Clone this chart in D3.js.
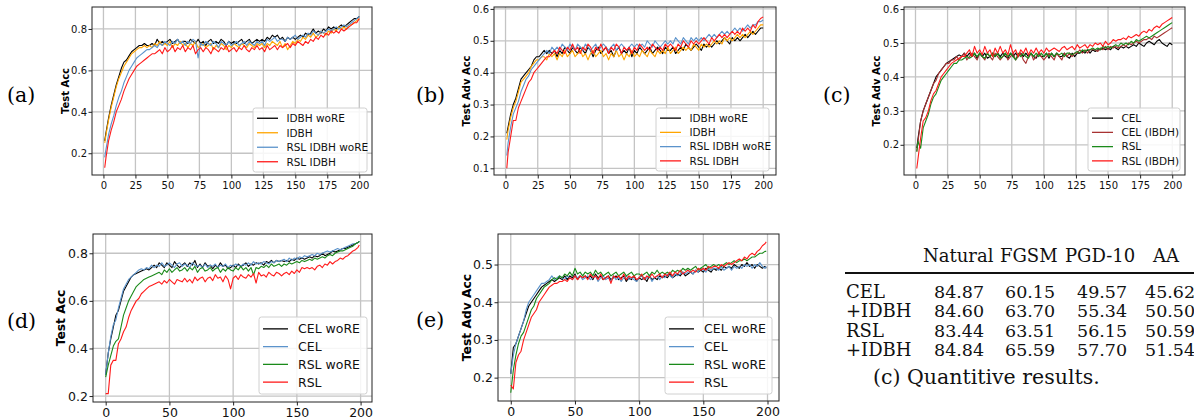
<!DOCTYPE html>
<html>
<head>
<meta charset="utf-8">
<script src="https://cdn.jsdelivr.net/npm/d3@7"></script>
<style>
body { margin: 0; background: #fff; }
svg { display: block; }
</style>
</head>
<body>
<div id="fig"></div>
<script>
"use strict"

// epochs, every second one is kept
var epochs_top = [1].concat(d3.range(2, 201, 2))
var epochs_bottom = d3.range(0, 199, 2).concat([199])

var ticks_x_top = [0, 25, 50, 75, 100, 125, 150, 175, 200]
var ticks_x_bottom = [0, 50, 100, 150, 200]

// (a) test acc, values in %
var a_idbh_wore = [
    26, 30, 37, 43, 48, 53, 57, 61, 64, 65,
    67, 69, 70, 71, 72, 72, 73, 72, 72, 73,
    72, 75, 73, 74, 73, 74, 75, 73, 74, 75,
    73, 74, 74, 73, 75, 74, 73, 75, 73, 74,
    72, 74, 75, 73, 74, 73, 75, 74, 72, 74,
    73, 74, 73, 74, 75, 73, 74, 75, 73, 74,
    75, 74, 75, 74, 76, 75, 77, 76, 77, 75,
    76, 74, 76, 75, 76, 75, 76, 77, 76, 78,
    77, 78, 80, 78, 79, 78, 80, 79, 81, 80,
    81, 80, 81, 82, 81, 82, 83, 84, 85, 85,
    86]
var a_idbh = [
    25, 29, 36, 42, 47, 52, 56, 59, 62, 64,
    66, 68, 69, 70, 71, 71, 72, 71, 72, 71,
    73, 72, 74, 72, 73, 72, 74, 71, 73, 72,
    74, 72, 73, 71, 73, 72, 74, 71, 72, 73,
    71, 72, 73, 70, 72, 71, 73, 72, 70, 72,
    71, 73, 72, 71, 73, 72, 71, 73, 72, 71,
    73, 72, 73, 71, 73, 72, 74, 73, 72, 74,
    71, 73, 70, 72, 74, 73, 75, 74, 76, 75,
    77, 76, 78, 76, 77, 79, 78, 77, 79, 78,
    80, 79, 81, 80, 81, 80, 82, 82, 83, 84,
    85]
var a_rsl_idbh_wore = [
    18, 22, 29, 34, 38, 43, 47, 50, 54, 57,
    60, 62, 64, 66, 67, 68, 69, 70, 70, 71,
    72, 71, 73, 72, 74, 73, 72, 74, 73, 75,
    73, 74, 72, 74, 73, 75, 74, 66, 73, 72,
    74, 73, 72, 74, 73, 71, 74, 73, 72, 74,
    72, 73, 74, 72, 73, 74, 72, 74, 73, 72,
    74, 73, 74, 72, 75, 74, 75, 76, 74, 75,
    75, 74, 76, 75, 76, 77, 75, 76, 77, 76,
    78, 77, 79, 78, 77, 79, 78, 79, 80, 79,
    80, 81, 80, 81, 82, 81, 82, 83, 84, 85,
    86]
var a_rsl_idbh = [
    13, 18, 26, 31, 35, 40, 43, 46, 50, 53,
    56, 58, 60, 62, 63, 64, 65, 66, 67, 68,
    68, 69, 70, 68, 71, 69, 70, 72, 69, 71,
    70, 72, 69, 71, 70, 72, 68, 70, 71, 69,
    71, 70, 68, 71, 70, 69, 71, 70, 72, 69,
    70, 71, 69, 71, 70, 72, 70, 69, 71, 70,
    72, 70, 71, 69, 72, 70, 71, 72, 70, 72,
    71, 72, 73, 71, 73, 72, 74, 73, 72, 74,
    73, 75, 74, 76, 75, 77, 76, 78, 77, 79,
    78, 79, 78, 80, 79, 80, 81, 82, 83, 83,
    85]

// (b) test adv acc
var b_idbh_wore = [
    21, 23, 27, 30, 32, 35, 38, 39, 40, 41,
    42, 44, 45, 45, 46, 47, 46, 47, 46, 47,
    45, 47, 46, 48, 47, 46, 48, 47, 46, 48,
    47, 46, 48, 47, 45, 47, 48, 46, 47, 48,
    46, 47, 45, 47, 48, 46, 47, 46, 48, 45,
    47, 46, 48, 47, 46, 47, 48, 46, 47, 48,
    47, 46, 48, 47, 47, 48, 46, 47, 48, 47,
    49, 48, 47, 48, 49, 48, 47, 49, 48, 49,
    48, 49, 50, 49, 50, 51, 50, 49, 51, 50,
    51, 50, 51, 52, 51, 52, 53, 52, 53, 54,
    54]
var b_idbh = [
    19, 22, 26, 29, 31, 34, 37, 38, 39, 40,
    42, 43, 44, 44, 45, 45, 44, 46, 45, 46,
    44, 46, 45, 47, 45, 46, 47, 45, 46, 47,
    45, 46, 44, 46, 47, 45, 46, 47, 45, 46,
    44, 46, 45, 47, 45, 46, 44, 46, 45, 47,
    45, 46, 45, 47, 46, 45, 47, 46, 45, 47,
    46, 47, 46, 48, 46, 47, 48, 46, 47, 48,
    47, 48, 47, 49, 48, 47, 49, 48, 49, 48,
    49, 50, 49, 50, 49, 51, 50, 51, 50, 51,
    52, 51, 52, 51, 52, 53, 52, 53, 54, 55,
    55]
var b_rsl_idbh_wore = [
    14, 18, 23, 27, 29, 31, 34, 36, 38, 39,
    41, 42, 43, 44, 45, 46, 47, 46, 48, 47,
    48, 47, 49, 48, 47, 49, 48, 47, 49, 48,
    47, 49, 48, 47, 48, 49, 47, 48, 49, 48,
    47, 48, 49, 47, 48, 49, 48, 47, 48, 49,
    48, 49, 48, 49, 48, 50, 49, 48, 50, 49,
    48, 49, 50, 49, 50, 49, 51, 50, 49, 51,
    50, 49, 51, 50, 51, 50, 51, 50, 51, 52,
    51, 52, 51, 52, 53, 52, 53, 52, 53, 54,
    53, 54, 53, 54, 55, 54, 55, 55, 56, 56,
    56.5]
var b_rsl_idbh = [
    10, 15, 20, 25, 25, 29, 31, 33, 35, 37,
    38, 40, 41, 42, 43, 44, 45, 45, 46, 47,
    46, 48, 47, 46, 48, 47, 49, 47, 48, 46,
    48, 47, 49, 48, 46, 48, 47, 49, 47, 48,
    46, 48, 47, 49, 48, 46, 48, 47, 48, 46,
    48, 47, 49, 48, 47, 48, 47, 49, 48, 47,
    48, 47, 49, 48, 49, 48, 47, 49, 48, 50,
    49, 48, 50, 49, 50, 49, 50, 51, 50, 49,
    51, 50, 51, 52, 51, 52, 51, 52, 53, 52,
    53, 52, 54, 53, 54, 53, 55, 54, 56, 57,
    57.5]

// (c) test adv acc
var c_cel = [
    19, 22, 27, 30, 32, 34, 36, 38, 40, 41,
    42, 43, 44, 44.5, 45, 45.5, 46, 46.5, 46, 47,
    46, 47, 46, 47, 45.5, 47, 46, 47, 45.5, 46,
    47, 46, 47, 46, 47, 46, 45.5, 47, 46, 47,
    46, 47, 46, 47, 46, 47, 46, 45.5, 47, 46,
    46, 47, 45.5, 47, 46, 47, 46, 46, 47, 46,
    45.5, 47, 46, 47, 47, 47.5, 47, 48, 47, 48,
    47.5, 48, 48, 48.5, 48, 48.5, 48, 49, 48.5, 48,
    49, 48.5, 49, 48.5, 49, 49.5, 49, 50, 49.5, 49,
    50, 50.5, 50, 49.5, 50.5, 51, 50, 49.5, 49, 50,
    49.5]
var c_cel_ibdh = [
    18, 21, 27, 30, 32, 34, 36, 38, 39, 41,
    42, 43, 44, 44, 45, 45, 46, 45, 46, 47,
    45, 46, 47, 46, 45, 47, 46, 45, 47, 46,
    45, 47, 46, 45, 46, 47, 45, 46, 47, 45,
    46, 47, 45, 44, 46, 47, 45, 46, 47, 46,
    45, 46, 47, 46, 45, 47, 46, 45, 47, 46,
    47, 46, 47, 47, 48, 47, 48, 47, 48, 48,
    48, 47.5, 48.5, 48, 49, 48, 49, 48.5, 49, 48.5,
    49, 49.5, 49, 50, 49.5, 50, 50.5, 50, 50.5, 51,
    51, 51.5, 51, 52, 51.5, 52, 52.5, 53, 53.5, 54,
    54.5]
var c_rsl = [
    18, 21, 19, 25, 27, 29, 32, 34, 35, 37,
    39, 40, 41, 42, 43, 44, 44, 45, 45, 45.5,
    46, 45.5, 46, 47, 46, 47, 46, 45.5, 47, 46,
    47, 46, 47, 45.5, 46, 47, 46, 47, 46, 45,
    47, 46, 47, 46, 45.5, 47, 46, 47, 46, 47,
    46, 47, 46, 47, 46, 47, 46.5, 47, 46, 47,
    47, 46.5, 47, 47.5, 47, 48, 47.5, 48, 48, 48.5,
    48, 48.5, 48, 49, 48.5, 49, 48.5, 49, 49.5, 49,
    50, 49.5, 50, 49.5, 50.5, 50, 51, 50.5, 51, 51.5,
    52, 51.5, 52, 52.5, 53, 53.5, 54, 54.5, 55, 55.5,
    56]
var c_rsl_ibdh = [
    13, 16, 22, 27, 28, 30, 33, 35, 36, 38,
    40, 41, 42, 43, 44, 44.5, 45, 45.5, 46, 46,
    47, 48, 46, 49, 47, 48, 46.5, 49, 47, 48,
    46, 48.5, 47, 49, 47, 48, 46.5, 49.5, 47, 48,
    46, 48, 47, 48.5, 46.5, 48, 47, 48.5, 47, 48,
    47, 48.5, 47.5, 48, 48.5, 48, 47.5, 48.5, 49, 48,
    48.5, 49, 48, 49.5, 48.5, 49, 49.5, 48.5, 49.5, 49,
    50, 49.5, 50, 49, 50.5, 49.5, 50, 51, 50.5, 51,
    51, 51.5, 51, 52, 51.5, 52, 52.5, 52, 53, 53.5,
    53, 54, 53.5, 54.5, 55, 54.5, 55.5, 56, 56.5, 57,
    57.5]

// (d) test acc
var d_cel_wore = [
    29, 38, 44, 49, 54, 56, 60, 64, 66, 68,
    70, 71, 71.5, 72, 72.5, 73, 73.5, 73, 74, 75,
    74, 76, 75, 74, 76, 75, 74, 76.5, 75, 74,
    75, 76, 74.5, 76, 75, 77, 74, 75.5, 74, 76,
    74.5, 75, 73.5, 75, 74, 76, 74.5, 75, 73.5, 74,
    75, 74, 75.5, 74.5, 75, 76, 74.5, 75.5, 75, 76,
    75.5, 76, 75, 76.5, 76, 77, 76, 77, 76.5, 77,
    76.5, 77, 76.5, 77.5, 77, 78, 77.5, 78, 77.5, 78,
    78.5, 78, 79, 78.5, 79, 80, 79, 79.5, 80, 81,
    80.5, 81, 81.5, 82, 82, 82.5, 83, 83.5, 84, 84.5,
    85]
var d_cel = [
    29, 38, 45, 50, 52, 57, 61, 65, 67, 69,
    70, 71, 72, 73, 73.5, 73, 74, 73.5, 75, 74,
    75, 74.5, 76, 74.5, 75, 76, 75, 74, 75.5, 76,
    74.5, 75.5, 75, 74, 76, 75, 74.5, 75, 74, 75.5,
    74, 75, 74.5, 75.5, 74, 75, 74.5, 75.5, 74, 75,
    74.5, 75.5, 75, 74.5, 75.5, 75, 76, 75, 76.5, 75.5,
    76, 75.5, 76.5, 76, 75.5, 76.5, 76, 77, 76.5, 77,
    77.5, 76.5, 78, 77, 78, 77.5, 78.5, 78, 79, 78.5,
    79, 79.5, 79, 80, 79.5, 80, 80.5, 81, 80.5, 81,
    81.5, 82, 81.5, 82, 82.5, 83, 83.5, 84, 84, 84.5,
    85]
var d_rsl_wore = [
    28, 33, 37, 41, 43, 44, 49, 54, 57, 60,
    62, 64, 66, 67, 68, 69, 69.5, 70, 70.5, 71,
    71.5, 72, 71, 73, 72, 73.5, 72, 73, 74, 72.5,
    73, 74, 72.5, 74, 73, 74.5, 72, 73.5, 74, 72.5,
    73, 74, 72.5, 73.5, 74, 72, 73.5, 72.5, 74, 73,
    72.5, 74, 73, 74.5, 73, 74, 72.5, 74, 71, 74,
    73.5, 74.5, 74, 75, 74, 75.5, 74.5, 75, 75.5, 74.5,
    75.5, 75, 76, 75.5, 76, 76.5, 76, 77, 76.5, 77,
    77.5, 77, 78, 77.5, 78, 78.5, 78, 79, 79.5, 79,
    80, 80.5, 81, 81, 81.5, 82, 82.5, 83, 84, 84.5,
    85]
var d_rsl = [
    21, 21, 33, 35, 35, 42, 44, 47, 49, 53,
    56, 58, 60, 61, 63, 64, 65, 66, 66.5, 67,
    67.5, 68, 67, 68.5, 67.5, 69, 68, 67, 69, 68.5,
    68, 69.5, 68, 69, 67.5, 70, 68.5, 69.5, 70, 68,
    69.5, 70, 68.5, 71, 69.5, 70, 68, 70.5, 69, 65,
    69.5, 70.5, 69, 71, 70, 69.5, 71, 70, 71.5, 67.5,
    72, 70.5, 71, 70, 72, 71, 70.5, 72, 71.5, 70.5,
    71.5, 72, 71, 72.5, 71.5, 73, 72, 74, 73.5, 74,
    73.5, 74, 73, 74.5, 75, 74, 75.5, 75, 76.5, 75.5,
    76.5, 77, 78, 77.5, 78.5, 79, 80, 81, 81.5, 82.5,
    83.5]

// (e) test adv acc
var e_cel_wore = [
    21, 28, 29, 31, 33, 35, 37, 39, 40, 41,
    42, 43, 44, 44.5, 45, 45.5, 46, 45.5, 46, 46.5,
    46, 47, 46, 47, 46.5, 47.5, 46, 47, 46.5, 47,
    46.5, 47, 46, 47.5, 46.5, 47, 46, 46.5, 47, 46,
    46.5, 47, 46, 46.5, 47, 45.5, 46.5, 46, 47, 45.5,
    46.5, 46, 46.5, 45.5, 47, 46, 46.5, 46, 47, 46.5,
    47, 46.5, 47.5, 46.5, 47, 47.5, 47, 48, 47, 47.5,
    48, 47.5, 48.5, 48, 48.5, 48, 49, 48.5, 48, 49,
    48.5, 49, 48.5, 49.5, 49, 49.5, 49, 50, 49.5, 49,
    50, 49.5, 50.5, 49.5, 50, 49, 50, 49.5, 49, 49.5,
    49]
var e_cel = [
    21, 26, 29, 31, 33, 35, 38, 40, 41, 42,
    43, 44, 45, 45, 45.5, 46, 47, 46, 46.5, 47,
    46.5, 46, 47, 46.5, 46, 47, 46.5, 47, 46, 46.5,
    47, 46, 46.5, 47, 45.5, 46.5, 47, 46, 46.5, 45.5,
    47, 46, 46.5, 45.5, 46.5, 47, 46, 46.5, 46, 45.5,
    46.5, 47, 46, 46.5, 47, 45.5, 46.5, 47, 46, 47,
    46.5, 47.5, 47, 46.5, 47.5, 47, 47.5, 48, 47.5, 48,
    48, 47.5, 48.5, 48, 49, 48.5, 48, 49, 48.5, 49,
    49, 48.5, 49.5, 48.5, 49, 49.5, 48.5, 49.5, 49, 49.5,
    49, 50, 49.5, 50, 49, 50, 49.5, 50.5, 49.5, 49,
    49.5]
var e_rsl_wore = [
    16, 22, 26, 29, 31, 32, 34, 36, 38, 39,
    41, 42, 43, 44, 44.5, 45, 46, 46.5, 46, 47,
    46.5, 47.5, 47, 48, 47, 49, 47.5, 48, 47, 48,
    47.5, 48, 47, 48.5, 47.5, 48, 47, 47.5, 48, 47,
    47.5, 48, 47, 47.5, 48, 47, 47.5, 48, 47, 47.5,
    47.5, 47, 47.5, 48, 47, 48, 47.5, 48.5, 47.5, 48,
    47.5, 48, 47.5, 48.5, 48, 48.5, 48, 49, 48.5, 49,
    48.5, 49, 49.5, 48.5, 49, 49.5, 50, 49, 49.5, 50,
    49.5, 50, 49.5, 50, 50.5, 50, 50.5, 51, 50.5, 51,
    51, 51.5, 51, 51.5, 52, 52, 52.5, 53, 53, 53.5,
    53.5]
var e_rsl = [
    18, 17, 24, 26, 27, 30, 32, 34, 36, 37,
    38, 40, 41, 42, 43, 44, 44.5, 45, 45, 45.5,
    45.5, 46, 45.5, 46.5, 46, 47, 46, 47, 46.5, 47,
    46, 47.5, 46.5, 47, 46, 47.5, 46, 46.5, 47, 45,
    47, 46.5, 47, 46, 47.5, 46, 47, 46.5, 47, 46,
    46.5, 47.5, 46, 47, 46.5, 47.5, 46.5, 47, 47.5, 46.5,
    47.5, 47, 48, 47, 48, 47.5, 48.5, 47.5, 48, 48.5,
    48, 48.5, 48, 49, 48.5, 49, 48.5, 49.5, 49, 49.5,
    49.5, 49, 50, 49.5, 50, 50.5, 50, 50.5, 51, 51.5,
    51, 52, 51.5, 52.5, 53, 52.5, 53.5, 54, 55, 55.5,
    56]

var names_ab = ["IDBH woRE", "IDBH", "RSL IDBH woRE", "RSL IDBH"]
var names_c = ["CEL", "CEL (IBDH)", "RSL", "RSL (IBDH)"]
var names_de = ["CEL woRE", "CEL", "RSL woRE", "RSL"]

// table (c) Quantitive results
var table_cols = ["Natural", "FGSM", "PGD-10", "AA"]
var table_rows = ["CEL", "+IDBH", "RSL", "+IDBH"]
var table_vals = [
    ["84.87", "60.15", "49.57", "45.62"],
    ["84.60", "63.70", "55.34", "50.50"],
    ["83.44", "63.51", "56.15", "50.59"],
    ["84.84", "65.59", "57.70", "51.54"]
]


var c_blue = "#5b93cb", c_orange = "#ffa500", c_red = "#ff1a1a", c_green = "#1a8a1a", c_brown = "#a83232"

var svg = d3.select("#fig").append("svg")
    .attr("width", 1194)
    .attr("height", 419)

var panels = [
    { tag: "(a)", tag_x: 7, tag_y: 102, box: [92, 7, 372, 175], epochs: epochs_top, xdom: [-8.95, 209.95], ydom: [0.095, 0.906],
      xticks: ticks_x_top, yticks: [0.2, 0.4, 0.6, 0.8], ylabel: "Test Acc", ylabel_x: 69,
      series: [a_idbh_wore, a_idbh, a_rsl_idbh_wore, a_rsl_idbh], names: names_ab, colors: ["#000", c_orange, c_blue, c_red],
      legend: [253, 108, 114, 64], fs: 10, lfs: 10.5, yfs: 10 },
    { tag: "(b)", tag_x: 416, tag_y: 102, box: [494, 7, 776, 175], epochs: epochs_top, xdom: [-8.95, 209.95], ydom: [0.079, 0.606],
      xticks: ticks_x_top, yticks: [0.1, 0.2, 0.3, 0.4, 0.5, 0.6], ylabel: "Test Adv Acc", ylabel_x: 470,
      series: [b_idbh_wore, b_idbh, b_rsl_idbh_wore, b_rsl_idbh], names: names_ab, colors: ["#000", c_orange, c_blue, c_red],
      legend: [656, 108, 113, 63], fs: 10, lfs: 10.5, yfs: 10 },
    { tag: "(c)", tag_x: 823, tag_y: 102, box: [904, 7, 1185, 175], epochs: epochs_top, xdom: [-8.95, 209.95], ydom: [0.111, 0.606],
      xticks: ticks_x_top, yticks: [0.2, 0.3, 0.4, 0.5, 0.6], ylabel: "Test Adv Acc", ylabel_x: 880,
      series: [c_cel, c_cel_ibdh, c_rsl, c_rsl_ibdh], names: names_c, colors: ["#000", c_brown, c_green, c_red],
      legend: [1088, 108, 92, 63], fs: 10, lfs: 10.5, yfs: 10 },
    { tag: "(d)", tag_x: 7, tag_y: 328, box: [93, 234, 372, 402], epochs: epochs_bottom, xdom: [-9.95, 208.95], ydom: [0.175, 0.881],
      xticks: ticks_x_bottom, yticks: [0.2, 0.4, 0.6, 0.8], ylabel: "Test Acc", ylabel_x: 65,
      series: [d_cel_wore, d_cel, d_rsl_wore, d_rsl], names: names_de, colors: ["#000", c_blue, c_green, c_red],
      legend: [259, 317, 108, 77], fs: 12.5, lfs: 12.5, yfs: 12.3 },
    { tag: "(e)", tag_x: 416, tag_y: 327, box: [498, 234, 779, 401], epochs: epochs_bottom, xdom: [-9.95, 208.95], ydom: [0.138, 0.581],
      xticks: ticks_x_bottom, yticks: [0.2, 0.3, 0.4, 0.5], ylabel: "Test Adv Acc", ylabel_x: 471,
      series: [e_cel_wore, e_cel, e_rsl_wore, e_rsl], names: names_de, colors: ["#000", c_blue, c_green, c_red],
      legend: [665, 317, 107, 77], fs: 12.5, lfs: 12.5, yfs: 12.3 }
]


function add_panel(p) {
    var left = p.box[0], top = p.box[1], right = p.box[2], bottom = p.box[3]
    var x = d3.scaleLinear().domain(p.xdom).range([left, right])
    var y = d3.scaleLinear().domain(p.ydom).range([bottom, top])
    var g = svg.append("g")

    // grid
    g.selectAll("line.vg").data(p.xticks).enter().append("line")
        .attr("class", "vg")
        .attr("x1", function (d) { return x(d) }).attr("x2", function (d) { return x(d) })
        .attr("y1", top).attr("y2", bottom)
        .attr("stroke", "#c4c4c4").attr("stroke-width", 1.3)
    g.selectAll("line.hg").data(p.yticks).enter().append("line")
        .attr("class", "hg")
        .attr("y1", function (d) { return y(d) }).attr("y2", function (d) { return y(d) })
        .attr("x1", left).attr("x2", right)
        .attr("stroke", "#c4c4c4").attr("stroke-width", 1.3)

    var linefunc = d3.line()
        .x(function (d) { return x(d[0]) })
        .y(function (d) { return y(d[1] / 100) })

    for (var i = 0; i < p.series.length; i++) {
        g.append("path")
            .datum(d3.zip(p.epochs, p.series[i]))
            .attr("d", linefunc)
            .attr("fill", "none")
            .attr("stroke", p.colors[i])
            .attr("stroke-width", 1.1)
            .attr("stroke-linejoin", "round")
    }

    // frame
    g.append("rect")
        .attr("x", left).attr("y", top)
        .attr("width", right - left).attr("height", bottom - top)
        .attr("fill", "none").attr("stroke", "#222").attr("stroke-width", 1)

    var xaxis = d3.axisBottom(x).tickValues(p.xticks).tickSize(3.5).tickPadding(3).tickFormat(d3.format("d"))
    var yaxis = d3.axisLeft(y).tickValues(p.yticks).tickSize(3.5).tickPadding(1.5).tickFormat(d3.format(".1f"))

    var gx = g.append("g").attr("transform", "translate(0," + bottom + ")").call(xaxis)
    var gy = g.append("g").attr("transform", "translate(" + left + ",0)").call(yaxis)
    ;[gx, gy].forEach(function (ax) {
        ax.select(".domain").remove()
        ax.attr("font-family", "DejaVu Sans").attr("font-size", p.fs)
        ax.selectAll("line").attr("stroke", "#222")
        ax.selectAll("text").attr("fill", "#111")
    })

    g.append("text")
        .attr("transform", "translate(" + p.ylabel_x + "," + (top + bottom) / 2 + ") rotate(-90)")
        .attr("text-anchor", "middle")
        .attr("font-family", "DejaVu Sans")
        .attr("font-weight", "bold")
        .attr("font-size", p.yfs)
        .text(p.ylabel)

    g.append("text")
        .attr("x", p.tag_x).attr("y", p.tag_y)
        .attr("font-family", "DejaVu Serif")
        .attr("font-size", 20.5)
        .text(p.tag)

    // legend
    var lx = p.legend[0], ly = p.legend[1], lw = p.legend[2], lh = p.legend[3]
    g.append("rect")
        .attr("x", lx).attr("y", ly).attr("width", lw).attr("height", lh)
        .attr("rx", 2.5)
        .attr("fill", "#fff").attr("fill-opacity", 0.85)
        .attr("stroke", "#d0d0d0")
    var step = (lh - 6) / 4
    var seg = p.lfs * 2
    for (var j = 0; j < p.names.length; j++) {
        var cy = ly + 3 + step * (j + 0.5)
        g.append("line")
            .attr("x1", lx + 4).attr("x2", lx + 4 + seg)
            .attr("y1", cy).attr("y2", cy)
            .attr("stroke", p.colors[j]).attr("stroke-width", 1.3)
        g.append("text")
            .attr("x", lx + 4 + seg + p.lfs * 0.8).attr("y", cy)
            .attr("dy", "0.36em")
            .attr("font-family", "DejaVu Sans")
            .attr("font-size", p.lfs)
            .attr("fill", "#111")
            .text(p.names[j])
    }
}

panels.forEach(add_panel)


// table
var tbl = svg.append("g").attr("font-family", "DejaVu Serif").attr("fill", "#111")
var head_x = [923, 1000, 1065, 1153]
var col_x = [934, 1005, 1077, 1145]
var row_y = [298, 317, 337, 356]

tbl.selectAll("text.head").data(table_cols).enter().append("text")
    .attr("class", "head")
    .attr("x", function (d, i) { return head_x[i] })
    .attr("y", 262)
    .attr("font-size", 18)
    .text(function (d) { return d })

tbl.append("line")
    .attr("x1", 845).attr("x2", 1194)
    .attr("y1", 273).attr("y2", 273)
    .attr("stroke", "#111").attr("stroke-width", 2)

for (var r = 0; r < table_rows.length; r++) {
    tbl.append("text")
        .attr("x", 846).attr("y", row_y[r])
        .attr("font-size", 18)
        .text(table_rows[r])
    for (var c = 0; c < table_vals[r].length; c++) {
        tbl.append("text")
            .attr("x", col_x[c]).attr("y", row_y[r])
            .attr("font-size", 17.5)
            .text(table_vals[r][c])
    }
}

tbl.append("text")
    .attr("x", 873).attr("y", 384)
    .attr("font-size", 20.5)
    .text("(c) Quantitive results.")

</script>
</body>
</html>
